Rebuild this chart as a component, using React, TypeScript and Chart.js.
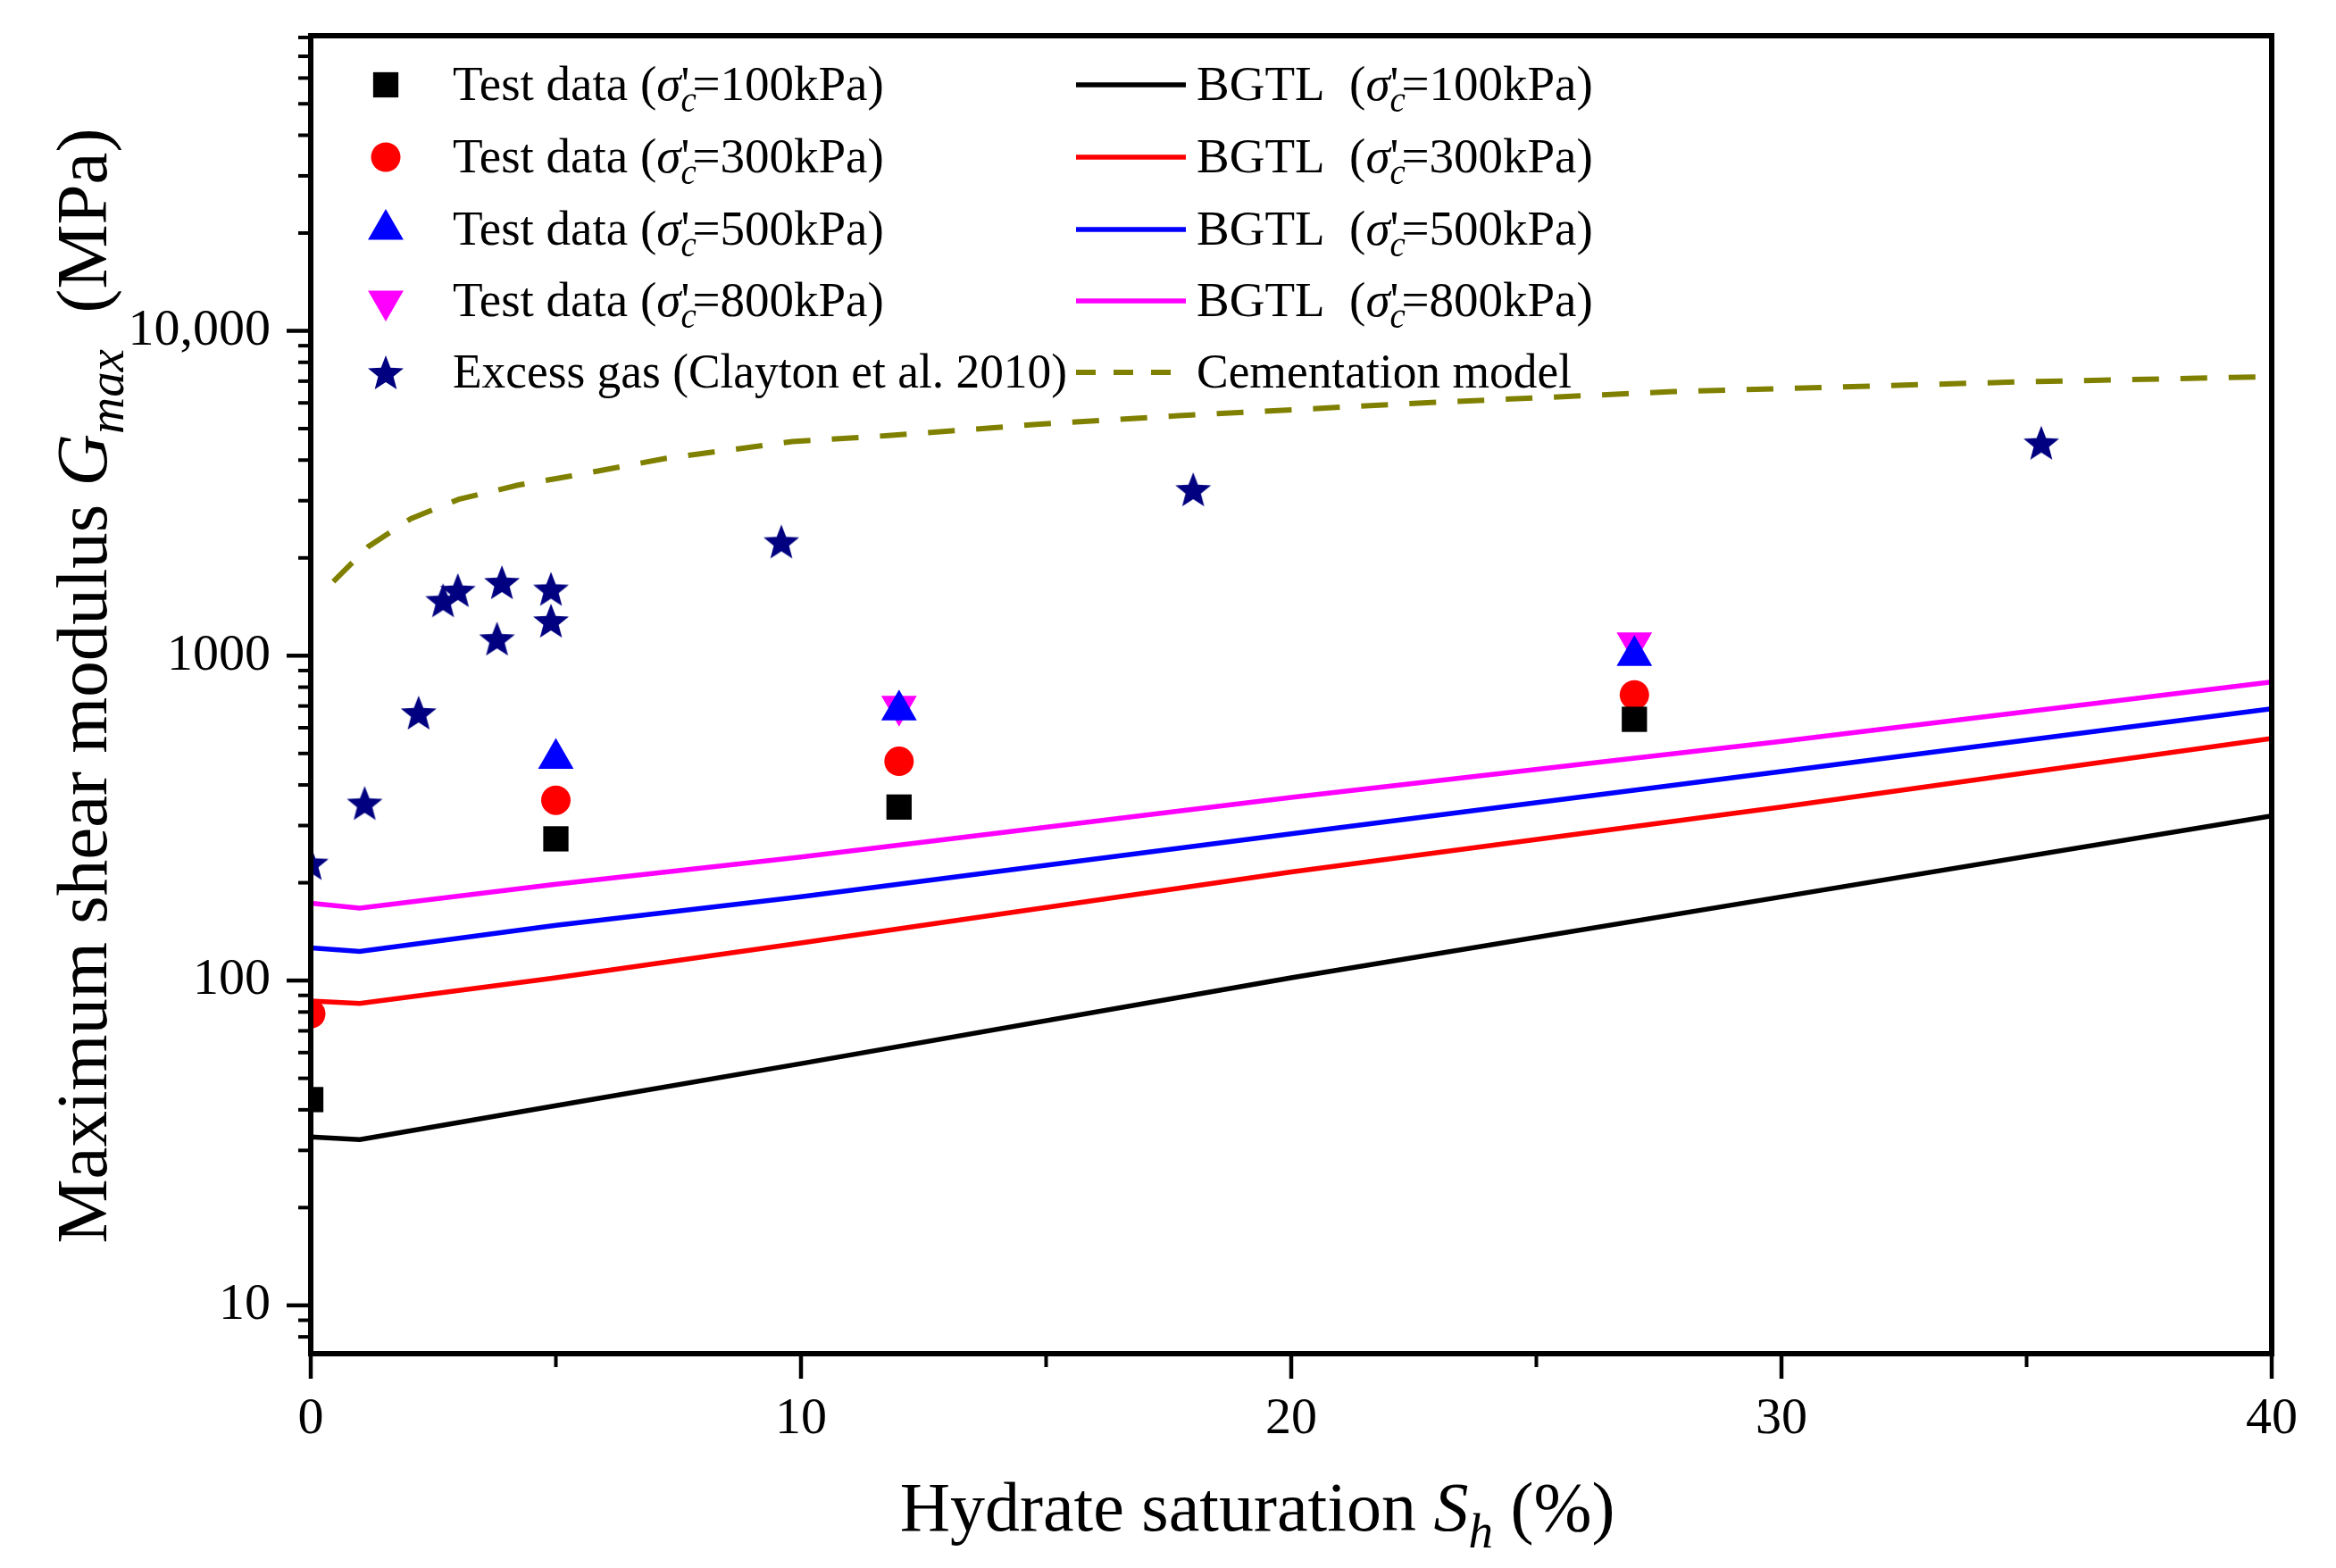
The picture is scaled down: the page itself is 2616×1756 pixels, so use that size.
import React, { useEffect, useRef } from 'react';
import { Chart, registerables } from 'chart.js';

Chart.register(...registerables);

const FONT = '"Liberation Serif", "Times New Roman", Times, serif';

// ---------- data ----------
const pressures = ['100kPa', '300kPa', '500kPa', '800kPa'];
const testColors = ['#000000', '#ff0000', '#0000ff', '#ff00ff'];

const test100X = [0, 5, 12, 27];
const test100Y = [43, 273, 342, 637];
const test300X = [0, 5, 12, 27];
const test300Y = [79, 359, 473, 757];
const test500X = [5, 12, 27];
const test500Y = [482, 680, 1000];
const test800X = [12, 27];
const test800Y = [700, 1096];

const gasLabel = 'Excess gas (Clayton et al. 2010)';
const gasX = [0, 1.1, 2.2, 2.7, 3.0, 3.8, 3.9, 4.9, 4.9, 9.6, 18.0, 35.3];
const gasY = [230, 352, 668, 1481, 1592, 1129, 1683, 1606, 1282, 2247, 3251, 4525];

const bgtlX = [0, 1, 5, 10, 20, 30, 40];
const bgtl100Y = [33, 32.4, 41.2, 55.5, 102, 181, 321];
const bgtl300Y = [86.5, 85, 102, 130.6, 216, 342, 556];
const bgtl500Y = [126, 123, 148, 181, 283, 440, 687];
const bgtl800Y = [173, 167, 198, 240, 366, 545, 830];

const cemLabel = 'Cementation model';
const cemX = [0.46, 1.18, 2.04, 3.02, 4.23, 5.29, 7.25, 9.82, 11.78, 14.8, 17.7, 22.5, 27.8, 34.8, 39.7];
const cemY = [1690, 2170, 2640, 3030, 3350, 3570, 4050, 4560, 4760, 5150, 5480, 5980, 6500, 6960, 7210];

const xMajorTicks = [0, 10, 20, 30, 40];
const xMinorTicks = [5, 15, 25, 35];
const yMajorTicks = [10, 100, 1000, 10000];
const yTickLabels = ['10', '100', '1000', '10,000'];
const yMinorTicks = [
  7, 8, 9,
  20, 30, 40, 50, 60, 70, 80, 90,
  200, 300, 400, 500, 600, 700, 800, 900,
  2000, 3000, 4000, 5000, 6000, 7000, 8000, 9000,
  20000, 30000, 40000, 50000, 60000, 70000, 80000,
];

const pts = (xs: number[], ys: number[]) => xs.map((x, i) => ({ x, y: ys[i] }));

// ---------- rich text ----------
type Part = { t: string; it?: boolean; sub?: boolean; keep?: boolean };

function partFont(p: Part, size: number) {
  const s = p.sub ? Math.round(size * 0.7) : size;
  return `${p.it ? 'italic ' : ''}${s}px ${FONT}`;
}

function richWidth(ctx: CanvasRenderingContext2D, parts: Part[], size: number) {
  let w = 0;
  let pending = 0;
  for (const p of parts) {
    ctx.font = partFont(p, size);
    const pw = ctx.measureText(p.t).width;
    if (p.keep) { pending = pw; continue; }
    w += Math.max(pw, pending * 0.75);
    pending = 0;
  }
  return w + pending;
}

function drawRich(ctx: CanvasRenderingContext2D, parts: Part[], x: number, y: number, size: number, align: 'left' | 'center') {
  let cx = align === 'center' ? x - richWidth(ctx, parts, size) / 2 : x;
  let pending = 0;
  ctx.textAlign = 'left';
  ctx.textBaseline = 'alphabetic';
  for (const p of parts) {
    ctx.font = partFont(p, size);
    const pw = ctx.measureText(p.t).width;
    const dy = p.sub ? size * 0.24 : 0;
    ctx.fillText(p.t, cx, y + dy);
    if (p.keep) { pending = pw; continue; }
    cx += Math.max(pw, pending * 0.75);
    pending = 0;
  }
}

const sigmaParts = (pr: string): Part[] => [
  { t: 'σ', it: true },
  { t: 'c', it: true, sub: true, keep: true },
  { t: "'" },
  { t: '=' + pr + ')' },
];

function makeStar(R: number, color: string) {
  const s = Math.ceil(R * 2 + 4);
  const c = document.createElement('canvas');
  c.width = s;
  c.height = s;
  const g = c.getContext('2d')!;
  g.translate(s / 2, s / 2 + 0.095 * R);
  g.beginPath();
  for (let k = 0; k < 10; k++) {
    const r = k % 2 === 0 ? R : R * 0.43;
    const a = -Math.PI / 2 + (k * Math.PI) / 5;
    if (k === 0) g.moveTo(r * Math.cos(a), r * Math.sin(a));
    else g.lineTo(r * Math.cos(a), r * Math.sin(a));
  }
  g.closePath();
  g.fillStyle = color;
  g.fill();
  return c;
}

const Y_MIN = 7.1;
const Y_MAX = 81000;

export default function App() {
  const ref = useRef<HTMLCanvasElement>(null);

  useEffect(() => {
    document.body.style.margin = '0';
    const canvas = ref.current!;
    const star = makeStar(21, '#000080');

    const decor = {
      id: 'decor',
      afterDraw(chart: any) {
        const { ctx, chartArea: a, scales } = chart;
        const xs = scales.x;
        const ys = scales.y;
        ctx.save();
        ctx.strokeStyle = '#000';
        ctx.fillStyle = '#000';
        ctx.lineCap = 'butt';
        const line = (x1: number, y1: number, x2: number, y2: number) => {
          ctx.beginPath(); ctx.moveTo(x1, y1); ctx.lineTo(x2, y2); ctx.stroke();
        };
        // ticks
        ctx.lineWidth = 4.5;
        for (const v of yMajorTicks) { const p = ys.getPixelForValue(v); line(a.left, p, a.left - 27, p); }
        ctx.lineWidth = 4;
        for (const v of yMinorTicks) {
          if (v < Y_MIN || v > Y_MAX) continue;
          const p = ys.getPixelForValue(v); line(a.left, p, a.left - 14, p);
        }
        ctx.lineWidth = 4.5;
        for (const v of xMajorTicks) { const p = xs.getPixelForValue(v); line(p, a.bottom, p, a.bottom + 28); }
        ctx.lineWidth = 4;
        for (const v of xMinorTicks) { const p = xs.getPixelForValue(v); line(p, a.bottom, p, a.bottom + 15); }
        // frame
        ctx.lineWidth = 6;
        ctx.strokeRect(a.left, a.top, a.right - a.left, a.bottom - a.top);

        // axis titles
        drawRich(ctx, [
          { t: 'Hydrate saturation ' },
          { t: 'S', it: true },
          { t: 'h', it: true, sub: true },
          { t: ' (%)' },
        ], 1408, 1714, 78, 'center');

        ctx.save();
        ctx.translate(119, 768);
        ctx.rotate(-Math.PI / 2);
        drawRich(ctx, [
          { t: 'Maximum shear modulus ' },
          { t: 'G', it: true },
          { t: 'max', it: true, sub: true },
          { t: '  (MPa)' },
        ], 0, 0, 81, 'center');
        ctx.restore();

        // legend
        const rows = [95, 176, 257, 337, 417];
        const size = 55;
        const mx = 432;
        const tx = 507;
        const lx1 = 1205;
        const lx2 = 1328;
        const tx2 = 1340;
        for (let i = 0; i < 4; i++) {
          const ds = chart.data.datasets[i];
          const y = rows[i];
          ctx.fillStyle = ds.pointBackgroundColor;
          const r = ds.pointRadius;
          ctx.beginPath();
          if (ds.pointStyle === 'rect') {
            const h = Math.SQRT1_2 * r;
            ctx.rect(mx - h, y - h, 2 * h, 2 * h);
          } else if (ds.pointStyle === 'circle') {
            ctx.arc(mx, y, r, 0, Math.PI * 2);
          } else {
            const sgn = ds.pointRotation ? -1 : 1;
            ctx.moveTo(mx, y - sgn * r);
            ctx.lineTo(mx + r * Math.sin(Math.PI / 3), y + (sgn * r) / 2);
            ctx.lineTo(mx - r * Math.sin(Math.PI / 3), y + (sgn * r) / 2);
            ctx.closePath();
          }
          ctx.fill();
          ctx.fillStyle = '#000';
          drawRich(ctx, [{ t: 'Test data (' }, ...sigmaParts(pressures[i])], tx, y + 17, size, 'left');
        }
        ctx.drawImage(star, mx - star.width / 2, rows[4] - star.height / 2);
        ctx.fillStyle = '#000';
        ctx.font = `${size}px ${FONT}`;
        ctx.textAlign = 'left';
        ctx.textBaseline = 'alphabetic';
        ctx.fillText(gasLabel, tx, rows[4] + 17, 688);

        for (let i = 0; i < 4; i++) {
          const ds = chart.data.datasets[5 + i];
          const y = rows[i];
          ctx.strokeStyle = ds.borderColor;
          ctx.lineWidth = ds.borderWidth;
          ctx.setLineDash([]);
          line(lx1, y, lx2, y);
          ctx.fillStyle = '#000';
          drawRich(ctx, [{ t: 'BGTL  (' }, ...sigmaParts(pressures[i])], tx2, y + 17, size, 'left');
        }
        const cds = chart.data.datasets[9];
        ctx.strokeStyle = cds.borderColor;
        ctx.lineWidth = cds.borderWidth;
        ctx.setLineDash([22, 20]);
        line(lx1, rows[4], lx2, rows[4]);
        ctx.setLineDash([]);
        ctx.fillStyle = '#000';
        ctx.font = `${size}px ${FONT}`;
        ctx.fillText(cemLabel, tx2, rows[4] + 17, 420);
        ctx.restore();
      },
    };

    const marker = (data: any, style: any, r: number, color: string, rot = 0) => ({
      data,
      showLine: false,
      pointStyle: style,
      pointRadius: r,
      pointRotation: rot,
      pointBackgroundColor: color,
      pointBorderColor: color,
      pointBorderWidth: 0,
    });
    const curve = (data: any, color: string, width: number, dash: number[] = []) => ({
      data,
      showLine: true,
      pointRadius: 0,
      borderColor: color,
      borderWidth: width,
      borderDash: dash,
      fill: false,
      tension: 0,
    });

    const chart = new Chart(canvas, {
      type: 'scatter',
      data: {
        datasets: [
          { label: 'Test data 100', ...marker(pts(test100X, test100Y), 'rect', 20, testColors[0]) },
          { label: 'Test data 300', ...marker(pts(test300X, test300Y), 'circle', 16.5, testColors[1]) },
          { label: 'Test data 500', ...marker(pts(test500X, test500Y), 'triangle', 23, testColors[2]) },
          { label: 'Test data 800', ...marker(pts(test800X, test800Y), 'triangle', 23, testColors[3], 180) },
          { label: gasLabel, ...marker(pts(gasX, gasY), star, 21, '#000080') },
          { label: 'BGTL 100', ...curve(pts(bgtlX, bgtl100Y), testColors[0], 5.5) },
          { label: 'BGTL 300', ...curve(pts(bgtlX, bgtl300Y), testColors[1], 5.5) },
          { label: 'BGTL 500', ...curve(pts(bgtlX, bgtl500Y), testColors[2], 5.5) },
          { label: 'BGTL 800', ...curve(pts(bgtlX, bgtl800Y), testColors[3], 5.5) },
          { label: cemLabel, ...curve(pts(cemX, cemY), '#808000', 6, [30, 24]) },
        ] as any,
      },
      options: {
        animation: false,
        responsive: false,
        events: [],
        layout: { padding: { left: 0, top: 40, right: 72, bottom: 0 } },
        plugins: { legend: { display: false }, tooltip: { enabled: false }, title: { display: false } },
        scales: {
          x: {
            type: 'linear',
            min: 0,
            max: 40,
            bounds: 'data',
            afterBuildTicks: (s: any) => { s.ticks = xMajorTicks.map((v) => ({ value: v })); },
            afterFit: (s: any) => { s.height = 240; s.paddingLeft = 0; s.paddingRight = 0; },
            grid: { display: false, drawTicks: false },
            border: { display: false },
            ticks: {
              color: '#000',
              font: { family: FONT, size: 58 },
              padding: 39,
              maxRotation: 0,
              autoSkip: false,
              callback: (v: any) => String(v),
            },
          },
          y: {
            type: 'logarithmic',
            min: Y_MIN,
            max: Y_MAX,
            bounds: 'data',
            afterBuildTicks: (s: any) => { s.ticks = yMajorTicks.map((v) => ({ value: v })); },
            afterFit: (s: any) => { s.width = 348; s.paddingTop = 0; s.paddingBottom = 0; },
            grid: { display: false, drawTicks: false },
            border: { display: false },
            ticks: {
              color: '#000',
              font: { family: FONT, size: 58 },
              padding: 45,
              autoSkip: false,
              callback: (_v: any, i: number) => yTickLabels[i] ?? '',
            },
          },
        },
      } as any,
      plugins: [decor as any],
    });
    return () => chart.destroy();
  }, []);

  return (
    <div style={{ width: 2616, height: 1756 }}>
      <canvas ref={ref} width={2616} height={1756} style={{ display: 'block', width: 2616, height: 1756 }} />
    </div>
  );
}
